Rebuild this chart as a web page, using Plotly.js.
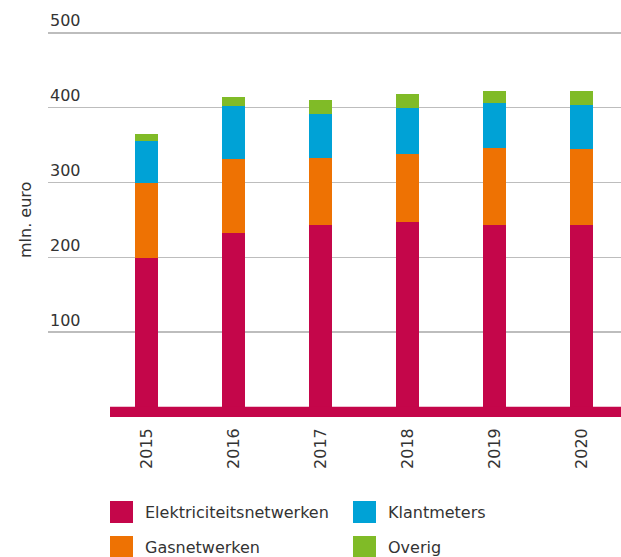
<!DOCTYPE html>
<html>
<head>
<meta charset="utf-8">
<script src="https://cdn.plot.ly/plotly-3.0.1.min.js"></script>
<style>html,body{margin:0;padding:0;background:#fff;}#chart{width:621px;height:557px;}</style>
</head>
<body>
<div id="chart"></div>
<script>
const years = ["2015", "2016", "2017", "2018", "2019", "2020"];
const elektriciteit = [199, 232, 243, 247, 243, 243];
const gas = [101, 99, 90, 91, 103, 102];
const klantmeters = [56, 71, 58, 62, 60, 59];
const overig = [9, 13, 20, 18, 17, 19];
const yTicks = [100, 200, 300, 400, 500];
const seriesNames = ["Elektriciteitsnetwerken", "Gasnetwerken", "Klantmeters", "Overig"];
const colors = ["#C4064A", "#EE7203", "#00A2D6", "#80BB27"];

const W = 621, H = 557, L = 48, R = 0, T = 26, B = 140;
const pw = W - L - R, ph = H - T - B;
const px = x => (x - L) / pw;
const py = y => (H - B - y) / ph;

const font = {family: "DejaVu Sans", size: 16, color: "#333333"};
const series = [elektriciteit, gas, klantmeters, overig];
const traces = series.map((v, i) => ({
  type: "bar", x: years, y: v, name: seriesNames[i],
  marker: {color: colors[i], line: {width: 0}},
  width: 0.264, showlegend: false, hoverinfo: "skip"
}));

const annotations = yTicks.map(v => ({
  xref: "paper", yref: "y", x: 0, y: v, yshift: 12,
  xanchor: "left", yanchor: "middle", text: String(v), showarrow: false, font: font
}));
annotations.push({
  xref: "paper", yref: "paper", x: px(25), y: py(220), textangle: -90,
  xanchor: "center", yanchor: "middle", text: "mln. euro", showarrow: false, font: font
});

const shapes = [{
  type: "rect", xref: "paper", yref: "y", x0: px(110), x1: 1, y0: 0, y1: -13.6,
  fillcolor: colors[0], line: {width: 0}, layer: "above"
}];

const legendItems = [
  {i: 0, mx: 110, tx: 143, cy: 512},
  {i: 2, mx: 353, tx: 386, cy: 512},
  {i: 1, mx: 110, tx: 143, cy: 547},
  {i: 3, mx: 353, tx: 386, cy: 547}
];
legendItems.forEach(it => {
  shapes.push({
    type: "rect", xref: "paper", yref: "paper",
    x0: px(it.mx), x1: px(it.mx + 23), y0: py(it.cy - 11), y1: py(it.cy + 11),
    fillcolor: colors[it.i], line: {width: 0}
  });
  annotations.push({
    xref: "paper", yref: "paper", x: px(it.tx), y: py(it.cy),
    xanchor: "left", yanchor: "middle", text: seriesNames[it.i], showarrow: false, font: font
  });
});

const layout = {
  width: W, height: H,
  margin: {l: L, r: R, t: T, b: B, pad: 0},
  paper_bgcolor: "#ffffff", plot_bgcolor: "#ffffff",
  barmode: "stack",
  font: font,
  xaxis: {
    type: "category", range: [-1.132, 5.454], tickangle: -90,
    showgrid: false, zeroline: false, showline: false, ticks: "",
    tickfont: font, ticklabelstandoff: 7, fixedrange: true
  },
  yaxis: {
    range: [-13.6, 509.3], tickvals: yTicks, showticklabels: false,
    showgrid: true, gridcolor: "#bdbdbd", gridwidth: 1.5,
    zeroline: false, showline: false, ticks: "", fixedrange: true
  },
  shapes: shapes,
  annotations: annotations
};

Plotly.newPlot("chart", traces, layout, {displayModeBar: false, staticPlot: true});
</script>
</body>
</html>
